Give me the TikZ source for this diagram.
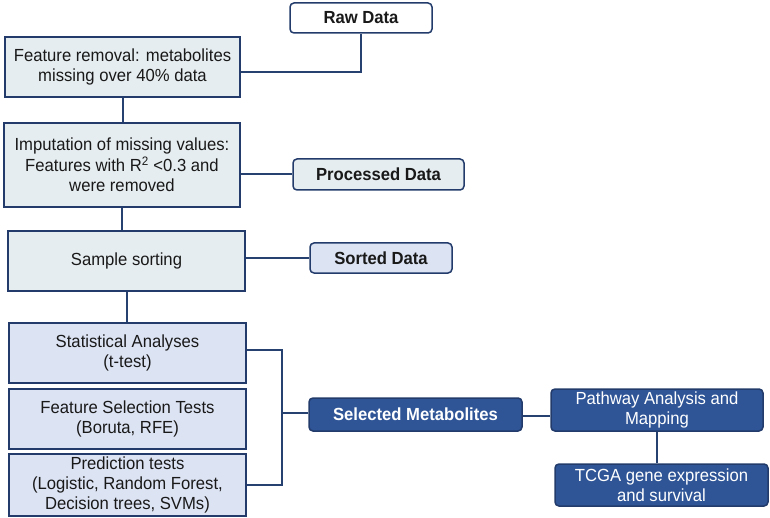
\documentclass[tikz,border=0pt]{standalone}
\usepackage{fontspec}
\setmainfont{Liberation Sans}[FakeStretch=0.95]
\begin{document}
\begin{tikzpicture}[x=1bp,y=-1bp,
  every node/.style={font=\fontsize{17.6}{20.5}\selectfont, text=black!90, align=center, inner sep=0pt},
  bfnode/.style={font=\fontsize{17.6}{20.5}\selectfont\bfseries},
  lightbox/.style={draw=boxline, line width=1.5bp, fill=lightfill},
  lavbox/.style={draw=boxline, line width=1.5bp, fill=lavfill},
  roundbox/.style={draw=boxline, line width=1.5bp, rounded corners=4bp},
  darkbox/.style={draw=boxline, line width=1.5bp, rounded corners=4bp, fill=darkfill, text=white},
  conn/.style={draw=lineclr, line width=2bp}]
\definecolor{boxline}{HTML}{223B6B}
\definecolor{lineclr}{HTML}{26406F}
\definecolor{lightfill}{HTML}{E6EDF0}
\definecolor{lavfill}{HTML}{DCE3F3}
\definecolor{darkfill}{HTML}{2F5597}
\useasboundingbox (0,0) rectangle (770,518);
\fill[white] (0,0) rectangle (770,518);

\node[roundbox, fill=white, minimum width=142bp, minimum height=30bp, bfnode] (raw) at (361,18) {Raw Data};
\node[lightbox, minimum width=235bp, minimum height=60bp] (feat) at (122.5,67) {Feature removal: metabolites\\missing over 40\% data};
\node[lightbox, minimum width=236bp, minimum height=84bp] (imp) at (122,165) {Imputation of missing values:\\Features with R\textsuperscript{2} <0.3 and\\were removed};
\node[roundbox, fill=lightfill, minimum width=171bp, minimum height=31bp, bfnode] (proc) at (378.5,174.5) {Processed Data};
\node[lightbox, minimum width=237bp, minimum height=60bp] (samp) at (126.5,261) {Sample sorting};
\node[roundbox, fill=lavfill, minimum width=142bp, minimum height=30bp, bfnode] (sorted) at (381,258) {Sorted Data};
\node[lavbox, minimum width=237bp, minimum height=60bp] (stat) at (127.5,353) {Statistical Analyses\\(t-test)};
\node[lavbox, minimum width=237bp, minimum height=60bp] (fsel) at (127.5,419) {Feature Selection Tests\\(Boruta, RFE)};
\node[lavbox, minimum width=237bp, minimum height=62bp] (pred) at (127.5,485) {Prediction tests\\(Logistic, Random Forest,\\Decision trees, SVMs)};
\node[darkbox, minimum width=213bp, minimum height=33bp, bfnode] (selm) at (415.5,414.5) {Selected Metabolites};
\node[darkbox, minimum width=212bp, minimum height=42bp] (path) at (657,410) {Pathway Analysis and\\Mapping};
\node[darkbox, minimum width=213bp, minimum height=42bp] (tcga) at (661.5,485) {TCGA gene expression\\and survival};

\coordinate (brk) at (282,413);

\draw[conn] ([yshift=-5bp]feat.east) -| (raw.south);
\draw[conn] (feat.south) -- (feat.south |- imp.north);
\draw[conn] (proc.west -| imp.east) -- (proc.west);
\draw[conn] (imp.south) -- (imp.south |- samp.north);
\draw[conn] (sorted.west -| samp.east) -- (sorted.west);
\draw[conn] (samp.south) -- (samp.south |- stat.north);
\draw[conn] ([yshift=3bp]stat.east) -| (brk) |- (pred.east);
\draw[conn] (brk) -- (brk -| selm.west);
\draw[conn] ([yshift=-1.5bp]selm.east) -- ([yshift=-1.5bp]selm.east -| path.west);
\draw[conn] (path.south) -- (path.south |- tcga.north);
\end{tikzpicture}
\end{document}
